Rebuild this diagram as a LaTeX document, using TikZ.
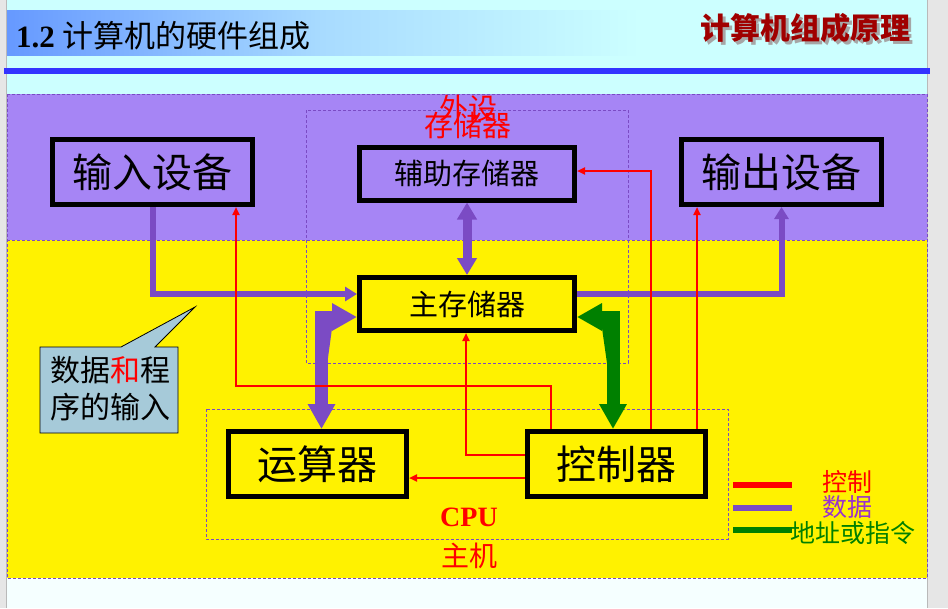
\documentclass[tikz,border=0pt]{standalone}
\usepackage{fontspec}
\setmainfont{Liberation Serif}
\newfontfamily\cjk{Noto Sans CJK SC}
\usetikzlibrary{arrows.meta}

\definecolor{sky}{HTML}{CCFFFF}
\definecolor{pale}{HTML}{F5FFFF}
\definecolor{strip}{HTML}{E6E6E6}
\definecolor{titleblue}{HTML}{6699FF}
\definecolor{rulecol}{HTML}{3333FF}
\definecolor{band}{HTML}{A685F5}
\definecolor{datacol}{HTML}{7B4BC4}
\definecolor{addrcol}{HTML}{008000}
\definecolor{ctrlcol}{HTML}{FF0000}
\definecolor{notefill}{HTML}{A6CAD9}
\definecolor{logored}{HTML}{A00000}
\definecolor{legendpurple}{HTML}{9933CC}

\tikzset{
  unit/.style={draw=black, line width=5pt, inner sep=0pt, align=center},
  bigunit/.style={unit, minimum width=200pt, minimum height=65pt, font=\cjk\fontsize{40}{44}\selectfont},
  memunit/.style={unit, minimum width=215pt, minimum height=53pt, font=\cjk\fontsize{29}{32}\selectfont},
  cpuunit/.style={unit, minimum width=178pt, minimum height=65pt, font=\cjk\fontsize{40}{44}\selectfont},
  zone/.style={draw=datacol, dashed, line width=0.6pt, dash pattern=on 3pt off 2pt},
  ctrlline/.style={draw=ctrlcol, line width=2pt, -{Triangle[length=8pt,width=7pt]}},
  dataline/.style={draw=datacol, line width=6pt, -{Triangle[length=12pt,width=14pt]}},
  databus/.style={draw=datacol, line width=9pt, {Triangle[length=17pt,width=19pt]}-{Triangle[length=17pt,width=19pt]}},
  widebus/.style={line width=13pt, {Triangle[length=25pt,width=26pt]}-{Triangle[length=25pt,width=26pt]}},
  tag/.style={text=ctrlcol, inner sep=0pt},
}

% logo text with its drop shadow, set as one piece
\newcommand\shadowedlogo[1]{%
  \rlap{\raisebox{-3pt}{\hspace{3pt}\textcolor{gray!70}{#1}}}\textcolor{logored}{#1}}

\begin{document}
\begin{tikzpicture}[x=1pt,y=-1pt]
\useasboundingbox (0,0) rectangle (948,608);

% page background and side strips
\fill[sky] (0,0) rectangle (948,608);
\fill[pale] (7,578) rectangle (928,608);
\fill[strip] (0,0) rectangle (6,608);
\fill[strip] (928,0) rectangle (948,608);
\draw[gray!55, line width=1pt] (6.5,0) -- (6.5,608);
\draw[gray!55, line width=1pt] (927.5,0) -- (927.5,608);

% heading
\shade[left color=titleblue, right color=sky, middle color=titleblue!35!sky] (7,10) rectangle (640,55);
\node[anchor=base west, inner sep=0pt, font=\fontsize{31}{34}\selectfont] (title) at (16,47)
  {\textbf{1.2} {\cjk 计算机的硬件组成}};
\node[anchor=base east, inner sep=0pt, font=\cjk\bfseries\fontsize{30}{32}\selectfont] (logo) at (911,39)
  {\shadowedlogo{计算机组成原理}};
\fill[rulecol] (4,68) rectangle (930,74);

% main panel
\fill[band] (7,94) rectangle (927,240);
\fill[yellow] (7,240) rectangle (927,578);
\draw[zone] (7,94) rectangle (927,578);
\draw[zone] (7,240) -- (927,240);

% storage and CPU groupings
\draw[zone] (306,110) rectangle (628,363);
\draw[zone] (206,409) rectangle (728,539);

% functional units
\node[bigunit] (in)  at (152.5,172) {输入设备};
\node[memunit] (aux) at (467,173.5) {辅助存储器};
\node[bigunit] (out) at (781.5,172) {输出设备};
\node[memunit] (mem) at (467,304) {主存储器};
\node[cpuunit] (alu) at (317.5,464) {运算器};
\node[cpuunit] (ctl) at (616.5,464) {控制器};

% group labels (the two lines of the storage label are set tightly)
\node[tag, align=center, font=\cjk\fontsize{29}{30}\selectfont] (storage) at (468,117) {外设\\[-13pt]存储器};
\node[tag, font=\bfseries\fontsize{28}{30}\selectfont] (cpulabel) at (469,517) {CPU};
\node[tag, font=\cjk\fontsize{28}{30}\selectfont] (host) at (469,556) {主机};

% data paths
\draw[dataline] (in.south) |- ([yshift=10pt]mem.west);
\draw[dataline] ([yshift=10pt]mem.east) -| (out.south);
\draw[databus] (aux.south) -- (mem.north);
\draw[widebus, draw=datacol, fill=datacol] ([xshift=4pt]alu.north) |- ([yshift=-13pt]mem.west);

% address / instruction path
\draw[widebus, draw=addrcol, fill=addrcol] ([xshift=-3.5pt]ctl.north) |- ([yshift=-13pt]mem.east);

% control signals
\draw[ctrlline] ([yshift=9pt]ctl.west) -| ([xshift=-1pt]mem.south);
\draw[ctrlline] ([yshift=-14pt]ctl.west) -- ([yshift=-14pt]alu.east);
\draw[ctrlline] ([xshift=-65.5pt]ctl.north) -- ++(0,-43) -| ([xshift=83.5pt]in.south);
\draw[ctrlline] ([xshift=34.5pt]ctl.north) |- ([yshift=2.5pt]aux.east);
\draw[ctrlline] ([xshift=80.5pt]ctl.north) -- ([xshift=-84.5pt]out.south);

% callout
\draw[fill=notefill, draw=black, line width=0.8pt]
  (40,347) -- (121,347) -- (195,307) -- (155,347) -- (178,347) -- (178,433) -- (40,433) -- cycle;
\node[align=left, inner sep=0pt, font=\cjk\fontsize{30}{37}\selectfont] (note) at (110,389)
  {数据{\color{ctrlcol}和}程\\序的输入};

% legend
\coordinate (lg1) at (733,485);
\coordinate (lg2) at (733,508);
\coordinate (lg3) at (733,530);
\draw[ctrlcol, line width=6pt] (lg1) -- ++(59,0);
\draw[datacol, line width=6pt] (lg2) -- ++(59,0);
\draw[addrcol, line width=6pt] (lg3) -- ++(59,0);
\node[anchor=west, inner sep=0pt, text=ctrlcol, font=\cjk\fontsize{25}{26}\selectfont] (lgctrl) at (822,482) {控制};
\node[anchor=west, inner sep=0pt, text=legendpurple, font=\cjk\fontsize{25}{26}\selectfont] (lgdata) at (822,507) {数据};
\node[anchor=west, inner sep=0pt, text=addrcol, font=\cjk\fontsize{25}{26}\selectfont] (lgaddr) at (790,533) {地址或指令};
\end{tikzpicture}
\end{document}
